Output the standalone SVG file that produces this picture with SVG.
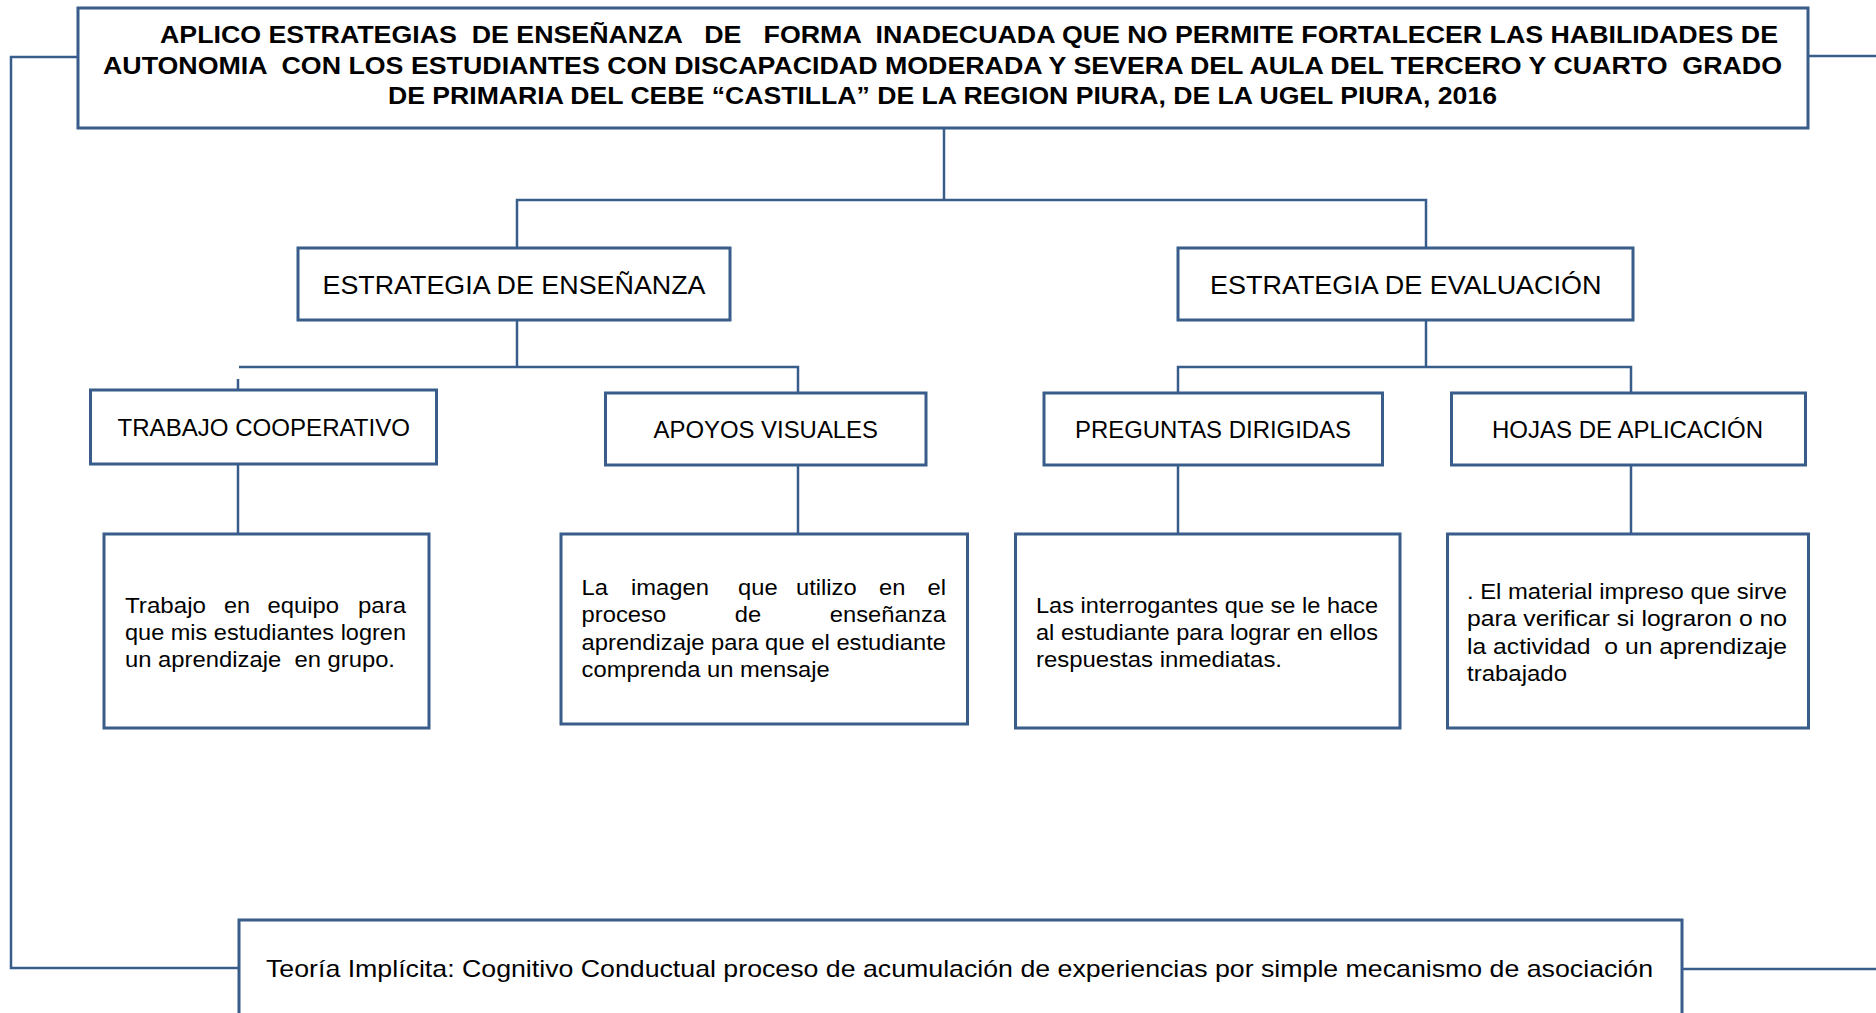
<svg xmlns="http://www.w3.org/2000/svg" width="1876" height="1013" viewBox="0 0 1876 1013" xml:space="preserve">
<style>
.box{fill:#fff;stroke:#385D8A;stroke-width:3}
.ln{fill:none;stroke:#385D8A;stroke-width:2.5}
.t{font-family:"Liberation Sans",Arial,sans-serif;fill:#000;white-space:pre}
.tt{font-size:24px;font-weight:bold}
.l1{font-size:25.5px}
.l2{font-size:24px}
.d{font-size:22.5px}
.b{font-size:24px}
</style>
<rect width="1876" height="1013" fill="#fff"/>
<g id="connectors">
<path class="ln" d="M78 57 H11 V968 H239"/>
<path class="ln" d="M1808 56 H1876"/>
<path class="ln" d="M1682 969 H1876"/>
<path class="ln" d="M944 128 V200"/>
<path class="ln" d="M517 248 V200 H1426 V248"/>
<path class="ln" d="M517 320 V367"/>
<path class="ln" d="M239 367 H798 V393"/>
<path class="ln" d="M238 379 V390"/>
<path class="ln" d="M1426 320 V367"/>
<path class="ln" d="M1178 393 V367 H1631 V393"/>
<path class="ln" d="M238 464 V534"/>
<path class="ln" d="M798 465 V534"/>
<path class="ln" d="M1178 465 V534"/>
<path class="ln" d="M1631 465 V534"/>
</g>
<g id="title">
<rect class="box" x="78" y="8" width="1730" height="120"/>
<text class="t tt" x="160" y="43" textLength="1618" lengthAdjust="spacingAndGlyphs">APLICO ESTRATEGIAS  DE ENSEÑANZA   DE   FORMA  INADECUADA QUE NO PERMITE FORTALECER LAS HABILIDADES DE</text>
<text class="t tt" x="103" y="73.5" textLength="1679" lengthAdjust="spacingAndGlyphs">AUTONOMIA  CON LOS ESTUDIANTES CON DISCAPACIDAD MODERADA Y SEVERA DEL AULA DEL TERCERO Y CUARTO  GRADO</text>
<text class="t tt" x="388" y="103.5" textLength="1109" lengthAdjust="spacingAndGlyphs">DE PRIMARIA DEL CEBE “CASTILLA” DE LA REGION PIURA, DE LA UGEL PIURA, 2016</text>
</g>
<g id="estrategia-ensenanza">
<rect class="box" x="298" y="248" width="432" height="72"/>
<text class="t l1" x="322.5" y="293.5" textLength="383" lengthAdjust="spacingAndGlyphs">ESTRATEGIA DE ENSEÑANZA</text>
</g>
<g id="estrategia-evaluacion">
<rect class="box" x="1178" y="248" width="455" height="72"/>
<text class="t l1" x="1210" y="293.5" textLength="391.5" lengthAdjust="spacingAndGlyphs">ESTRATEGIA DE EVALUACIÓN</text>
</g>
<g id="trabajo-cooperativo">
<rect class="box" x="90.5" y="390" width="346" height="74"/>
<text class="t l2" x="117.5" y="435.5" textLength="292.5" lengthAdjust="spacingAndGlyphs">TRABAJO COOPERATIVO</text>
</g>
<g id="apoyos-visuales">
<rect class="box" x="605.5" y="393" width="320.5" height="72"/>
<text class="t l2" x="653.5" y="437.5" textLength="224.5" lengthAdjust="spacingAndGlyphs">APOYOS VISUALES</text>
</g>
<g id="preguntas-dirigidas">
<rect class="box" x="1044" y="393" width="338.5" height="72"/>
<text class="t l2" x="1075" y="437.5" textLength="276" lengthAdjust="spacingAndGlyphs">PREGUNTAS DIRIGIDAS</text>
</g>
<g id="hojas-aplicacion">
<rect class="box" x="1451.5" y="393" width="354" height="72"/>
<text class="t l2" x="1492" y="437.5" textLength="271" lengthAdjust="spacingAndGlyphs">HOJAS DE APLICACIÓN</text>
</g>
<g id="desc-trabajo">
<rect class="box" x="104" y="534" width="325" height="194"/>
<text class="t d" x="125" y="612.5" textLength="81" lengthAdjust="spacingAndGlyphs">Trabajo</text>
<text class="t d" x="223.9" y="612.5" textLength="26.1" lengthAdjust="spacingAndGlyphs">en</text>
<text class="t d" x="267.5" y="612.5" textLength="71.5" lengthAdjust="spacingAndGlyphs">equipo</text>
<text class="t d" x="358" y="612.5" textLength="48" lengthAdjust="spacingAndGlyphs">para</text>
<text class="t d" x="125" y="639.5" textLength="281" lengthAdjust="spacingAndGlyphs">que mis estudiantes logren</text>
<text class="t d" x="125" y="666.5" textLength="270" lengthAdjust="spacingAndGlyphs">un aprendizaje  en grupo.</text>
</g>
<g id="desc-apoyos">
<rect class="box" x="561" y="534" width="406.5" height="190"/>
<text class="t d" x="581.6" y="594.5" textLength="26.4" lengthAdjust="spacingAndGlyphs">La</text>
<text class="t d" x="631" y="594.5" textLength="77.9" lengthAdjust="spacingAndGlyphs">imagen</text>
<text class="t d" x="738" y="594.5" textLength="39.6" lengthAdjust="spacingAndGlyphs">que</text>
<text class="t d" x="796" y="594.5" textLength="60.7" lengthAdjust="spacingAndGlyphs">utilizo</text>
<text class="t d" x="879" y="594.5" textLength="26.4" lengthAdjust="spacingAndGlyphs">en</text>
<text class="t d" x="927.6" y="594.5" textLength="18.5" lengthAdjust="spacingAndGlyphs">el</text>
<text class="t d" x="581.6" y="622" textLength="84.5" lengthAdjust="spacingAndGlyphs">proceso</text>
<text class="t d" x="734.8" y="622" textLength="26.4" lengthAdjust="spacingAndGlyphs">de</text>
<text class="t d" x="829.8" y="622" textLength="116.2" lengthAdjust="spacingAndGlyphs">enseñanza</text>
<text class="t d" x="581.6" y="649.5" textLength="364.4" lengthAdjust="spacingAndGlyphs">aprendizaje para que el estudiante</text>
<text class="t d" x="581.6" y="677" textLength="248.2" lengthAdjust="spacingAndGlyphs">comprenda un mensaje</text>
</g>
<g id="desc-preguntas">
<rect class="box" x="1015.5" y="534" width="384.5" height="194"/>
<text class="t d" x="1036" y="612.5" textLength="342" lengthAdjust="spacingAndGlyphs">Las interrogantes que se le hace</text>
<text class="t d" x="1036" y="639.5" textLength="342" lengthAdjust="spacingAndGlyphs">al estudiante para lograr en ellos</text>
<text class="t d" x="1036" y="666.5" textLength="246" lengthAdjust="spacingAndGlyphs">respuestas inmediatas.</text>
</g>
<g id="desc-hojas">
<rect class="box" x="1447.5" y="534" width="361" height="194"/>
<text class="t d" x="1467" y="598.5" textLength="320" lengthAdjust="spacingAndGlyphs">. El material impreso que sirve</text>
<text class="t d" x="1467" y="626" textLength="320" lengthAdjust="spacingAndGlyphs">para verificar si lograron o no</text>
<text class="t d" x="1467" y="653.5" textLength="320" lengthAdjust="spacingAndGlyphs">la actividad  o un aprendizaje</text>
<text class="t d" x="1467" y="681" textLength="100" lengthAdjust="spacingAndGlyphs">trabajado</text>
</g>
<g id="teoria">
<rect class="box" x="239" y="920" width="1443" height="110"/>
<text class="t b" x="266" y="977" textLength="1387" lengthAdjust="spacingAndGlyphs">Teoría Implícita: Cognitivo Conductual proceso de acumulación de experiencias por simple mecanismo de asociación</text>
</g>
</svg>
